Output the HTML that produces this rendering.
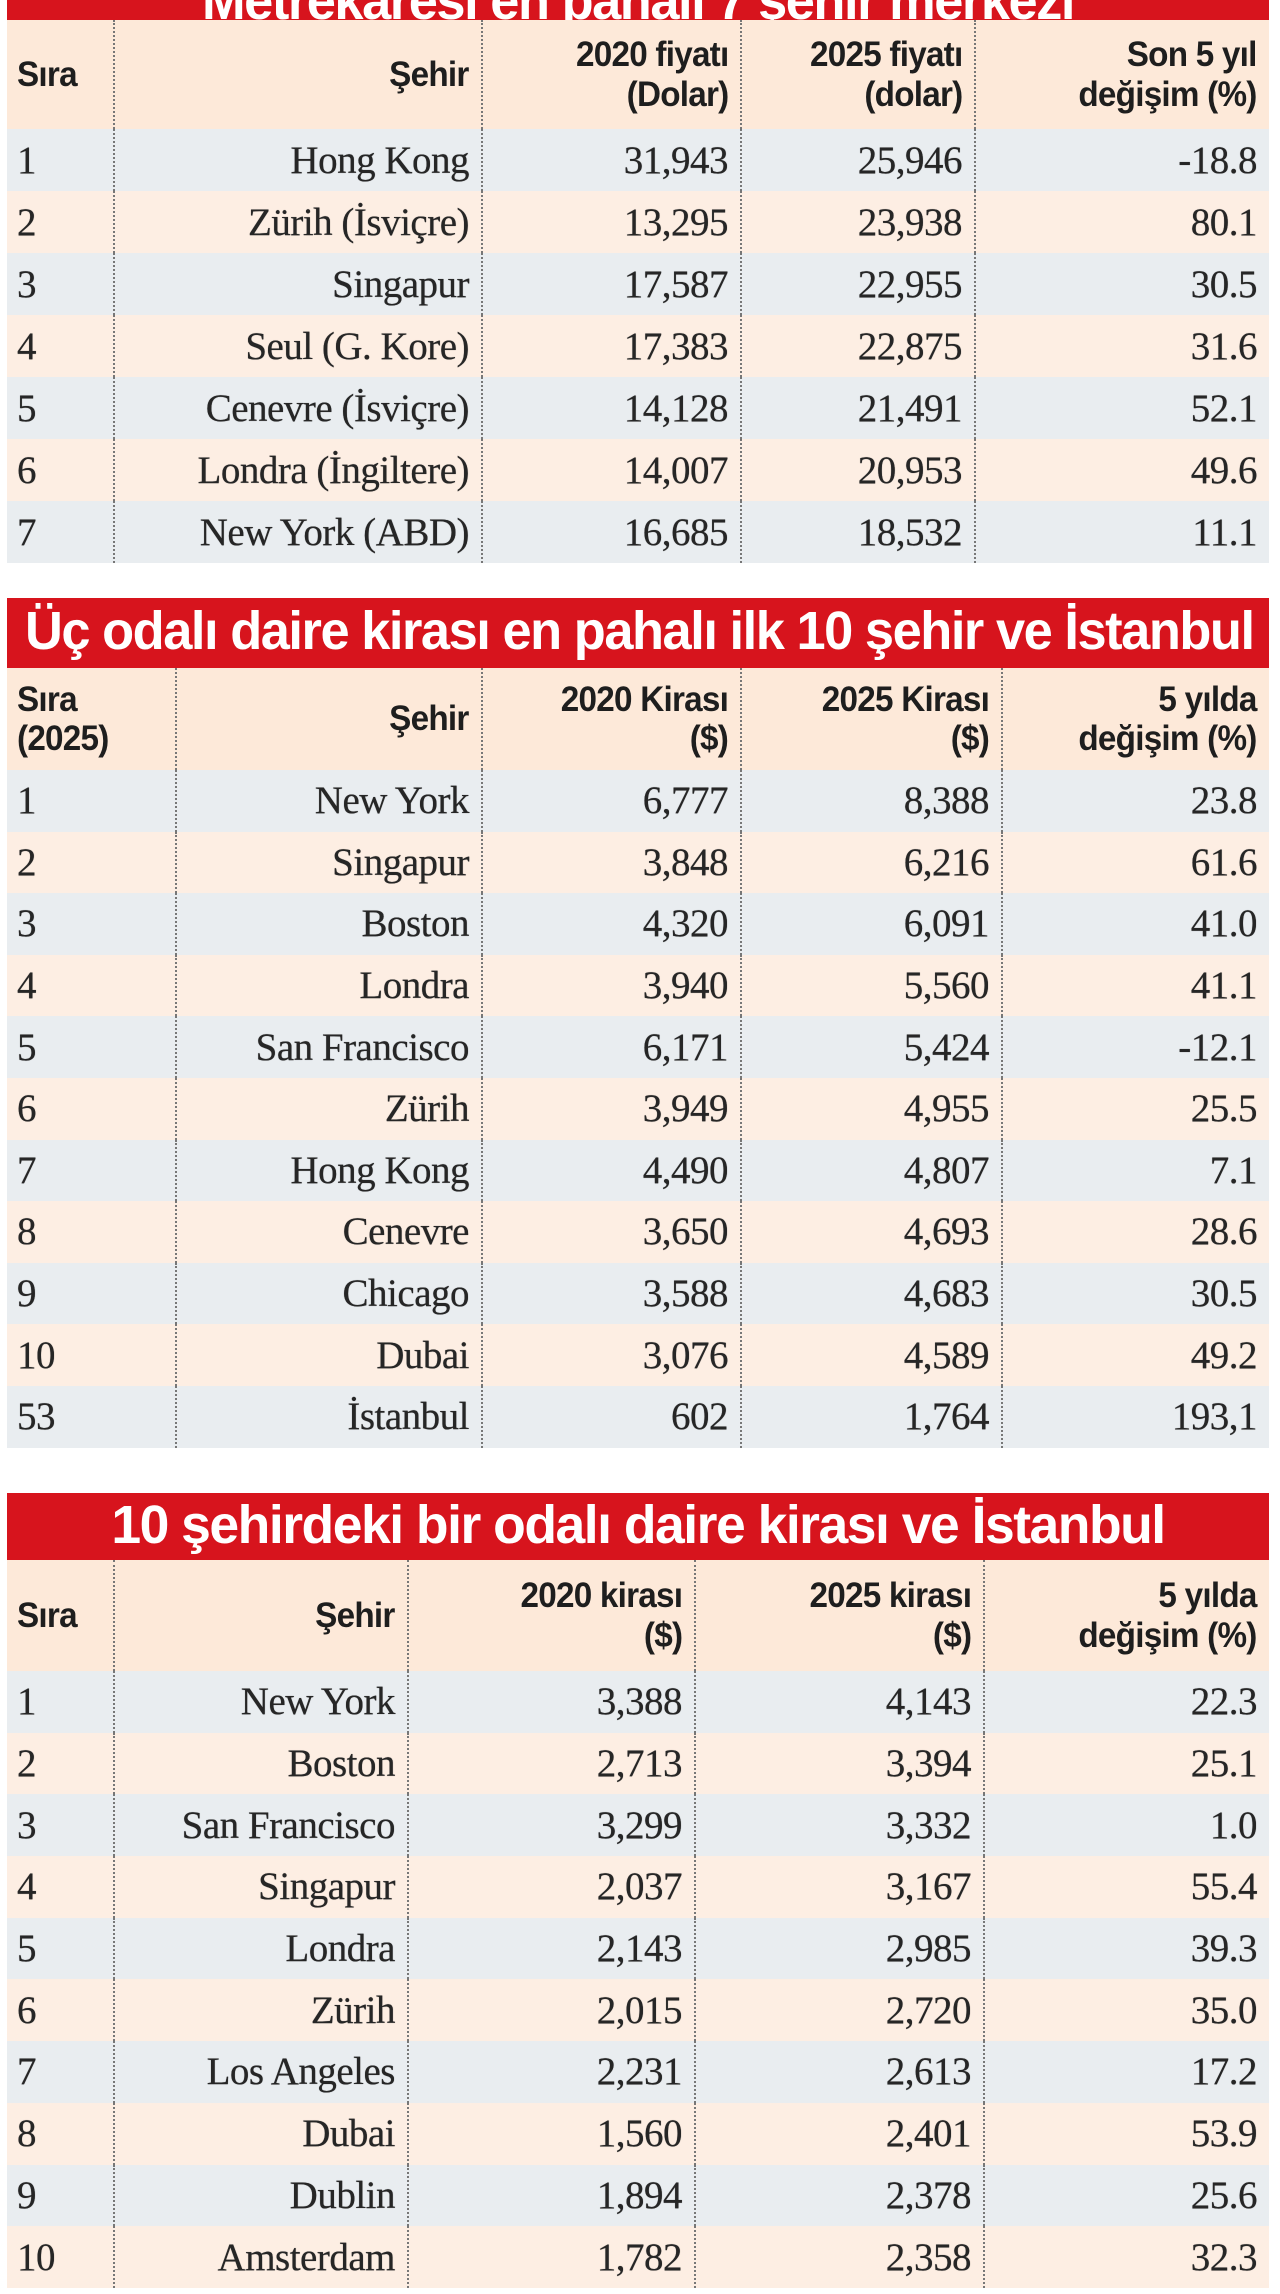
<!DOCTYPE html>
<html><head><meta charset="utf-8">
<style>
*{margin:0;padding:0;box-sizing:border-box}
body{width:1280px;height:2294px;background:#fff;position:relative;overflow:hidden;font-family:"Liberation Serif",serif;color:#222}
.blk{position:absolute;left:7px;width:1262px}
.title{background:#d7141d;color:#fff;font-family:"Liberation Sans",sans-serif;font-weight:bold;font-size:54px;white-space:nowrap;overflow:hidden;position:relative}
.title span{position:absolute;top:50%;letter-spacing:-1.5px}
table{border-collapse:collapse;table-layout:fixed;width:1262px}
td,th{text-align:right;padding:0 12px 0 6px;vertical-align:middle;white-space:nowrap}
th{background:#fde9d9;font-family:"Liberation Sans",sans-serif;font-weight:bold;font-size:35px;line-height:1.12;color:#1e1e1e;letter-spacing:-0.8px}
th span{display:inline-block;transform:scaleX(0.95);transform-origin:right center}
th:first-child span{transform-origin:left center}
td{font-size:39px;color:#262626;text-shadow:0 0 0.6px #262626;letter-spacing:-0.5px}
td:first-child,th:first-child{text-align:left;padding-left:10px}
td+td,th+th{border-left:2px dotted #777}
tr.a td{background:#e9edf0}
tr.b td{background:#fdeee3}
</style></head><body>

<div class="blk" style="top:0">
 <div class="title" style="height:20px"><span style="left:0;right:0;text-align:center;top:-30px;transform:scaleX(0.97)">Metrekaresi en pahalı 7 şehir merkezi</span></div>
 <table>
  <colgroup><col style="width:107px"><col style="width:368px"><col style="width:259px"><col style="width:234px"><col style="width:294px"></colgroup>
  <tr style="height:109px"><th><span>Sıra</span></th><th><span>Şehir</span></th><th><span>2020 fiyatı<br>(Dolar)</span></th><th><span>2025 fiyatı<br>(dolar)</span></th><th><span>Son 5 yıl<br>değişim (%)</span></th></tr>
  <tr class="a" style="height:62px"><td>1</td><td>Hong Kong</td><td>31,943</td><td>25,946</td><td>-18.8</td></tr>
  <tr class="b" style="height:62px"><td>2</td><td>Zürih (İsviçre)</td><td>13,295</td><td>23,938</td><td>80.1</td></tr>
  <tr class="a" style="height:62px"><td>3</td><td>Singapur</td><td>17,587</td><td>22,955</td><td>30.5</td></tr>
  <tr class="b" style="height:62px"><td>4</td><td>Seul (G. Kore)</td><td>17,383</td><td>22,875</td><td>31.6</td></tr>
  <tr class="a" style="height:62px"><td>5</td><td>Cenevre (İsviçre)</td><td>14,128</td><td>21,491</td><td>52.1</td></tr>
  <tr class="b" style="height:62px"><td>6</td><td>Londra (İngiltere)</td><td>14,007</td><td>20,953</td><td>49.6</td></tr>
  <tr class="a" style="height:62px"><td>7</td><td>New York (ABD)</td><td>16,685</td><td>18,532</td><td>11.1</td></tr>
 </table>
</div>

<div class="blk" style="top:598px">
 <div class="title" style="height:70px"><span style="left:18px;transform:translateY(-53%) scaleX(0.97);transform-origin:left center">Üç odalı daire kirası en pahalı ilk 10 şehir ve İstanbul</span></div>
 <table>
  <colgroup><col style="width:169px"><col style="width:306px"><col style="width:259px"><col style="width:261px"><col style="width:267px"></colgroup>
  <tr style="height:102px"><th><span>Sıra<br>(2025)</span></th><th><span>Şehir</span></th><th><span>2020 Kirası<br>($)</span></th><th><span>2025 Kirası<br>($)</span></th><th><span>5 yılda<br>değişim (%)</span></th></tr>
  <tr class="a" style="height:61.6px"><td>1</td><td>New York</td><td>6,777</td><td>8,388</td><td>23.8</td></tr>
  <tr class="b" style="height:61.6px"><td>2</td><td>Singapur</td><td>3,848</td><td>6,216</td><td>61.6</td></tr>
  <tr class="a" style="height:61.6px"><td>3</td><td>Boston</td><td>4,320</td><td>6,091</td><td>41.0</td></tr>
  <tr class="b" style="height:61.6px"><td>4</td><td>Londra</td><td>3,940</td><td>5,560</td><td>41.1</td></tr>
  <tr class="a" style="height:61.6px"><td>5</td><td>San Francisco</td><td>6,171</td><td>5,424</td><td>-12.1</td></tr>
  <tr class="b" style="height:61.6px"><td>6</td><td>Zürih</td><td>3,949</td><td>4,955</td><td>25.5</td></tr>
  <tr class="a" style="height:61.6px"><td>7</td><td>Hong Kong</td><td>4,490</td><td>4,807</td><td>7.1</td></tr>
  <tr class="b" style="height:61.6px"><td>8</td><td>Cenevre</td><td>3,650</td><td>4,693</td><td>28.6</td></tr>
  <tr class="a" style="height:61.6px"><td>9</td><td>Chicago</td><td>3,588</td><td>4,683</td><td>30.5</td></tr>
  <tr class="b" style="height:61.6px"><td>10</td><td>Dubai</td><td>3,076</td><td>4,589</td><td>49.2</td></tr>
  <tr class="a" style="height:61.6px"><td>53</td><td>İstanbul</td><td>602</td><td>1,764</td><td>193,1</td></tr>
 </table>
</div>

<div class="blk" style="top:1493px">
 <div class="title" style="height:67px"><span style="left:0;right:0;text-align:center;transform:translateY(-53%) scaleX(0.99)">10 şehirdeki bir odalı daire kirası ve İstanbul</span></div>
 <table>
  <colgroup><col style="width:107px"><col style="width:294px"><col style="width:287px"><col style="width:289px"><col style="width:285px"></colgroup>
  <tr style="height:111px"><th><span>Sıra</span></th><th><span>Şehir</span></th><th><span>2020 kirası<br>($)</span></th><th><span>2025 kirası<br>($)</span></th><th><span>5 yılda<br>değişim (%)</span></th></tr>
  <tr class="a" style="height:61.7px"><td>1</td><td>New York</td><td>3,388</td><td>4,143</td><td>22.3</td></tr>
  <tr class="b" style="height:61.7px"><td>2</td><td>Boston</td><td>2,713</td><td>3,394</td><td>25.1</td></tr>
  <tr class="a" style="height:61.7px"><td>3</td><td>San Francisco</td><td>3,299</td><td>3,332</td><td>1.0</td></tr>
  <tr class="b" style="height:61.7px"><td>4</td><td>Singapur</td><td>2,037</td><td>3,167</td><td>55.4</td></tr>
  <tr class="a" style="height:61.7px"><td>5</td><td>Londra</td><td>2,143</td><td>2,985</td><td>39.3</td></tr>
  <tr class="b" style="height:61.7px"><td>6</td><td>Zürih</td><td>2,015</td><td>2,720</td><td>35.0</td></tr>
  <tr class="a" style="height:61.7px"><td>7</td><td>Los Angeles</td><td>2,231</td><td>2,613</td><td>17.2</td></tr>
  <tr class="b" style="height:61.7px"><td>8</td><td>Dubai</td><td>1,560</td><td>2,401</td><td>53.9</td></tr>
  <tr class="a" style="height:61.7px"><td>9</td><td>Dublin</td><td>1,894</td><td>2,378</td><td>25.6</td></tr>
  <tr class="b" style="height:61.7px"><td>10</td><td>Amsterdam</td><td>1,782</td><td>2,358</td><td>32.3</td></tr>
 </table>
</div>
</body></html>
